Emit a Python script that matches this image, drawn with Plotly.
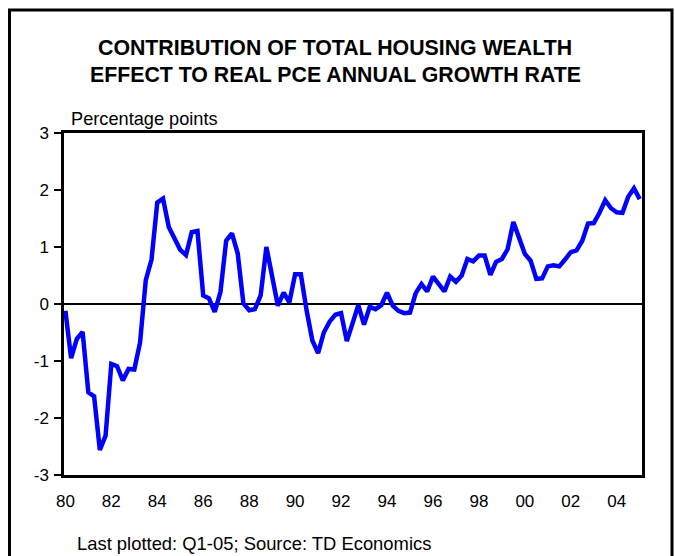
import plotly.graph_objects as go

# ---- data (quarterly, Q1-1980 .. Q1-2005), percentage points ----
start_year = 1980
n_quarters = 101
quarters = [f"Q{(i % 4) + 1}-{str(start_year + i // 4)[2:]}" for i in range(n_quarters)]
x_pos = [start_year + i / 4 for i in range(n_quarters)]

values = [
    -0.12, -0.95, -0.61, -0.49, -1.55, -1.62, -2.56, -2.31, -1.05, -1.09,
    -1.34, -1.14, -1.15, -0.68, 0.42, 0.78, 1.78, 1.85, 1.35, 1.16,
    0.95, 0.86, 1.26, 1.28, 0.15, 0.10, -0.14, 0.21, 1.11, 1.24,
    0.89, 0.01, -0.11, -0.09, 0.15, 1.00, 0.45, -0.03, 0.20, 0.03,
    0.52, 0.52, -0.11, -0.64, -0.86, -0.50, -0.31, -0.19, -0.16, -0.65,
    -0.34, -0.02, -0.36, -0.05, -0.09, -0.02, 0.20, -0.03, -0.12, -0.16,
    -0.15, 0.19, 0.35, 0.22, 0.48, 0.35, 0.22, 0.48, 0.39, 0.50,
    0.79, 0.75, 0.85, 0.85, 0.51, 0.74, 0.79, 0.96, 1.44, 1.16,
    0.88, 0.76, 0.44, 0.45, 0.66, 0.68, 0.66, 0.78, 0.91, 0.94,
    1.11, 1.41, 1.42, 1.60, 1.82, 1.68, 1.61, 1.60, 1.88, 2.03,
    1.84,
]

x_tick_vals = [1980, 1982, 1984, 1986, 1988, 1990, 1992, 1994, 1996, 1998, 2000, 2002, 2004]
x_tick_text = ["80", "82", "84", "86", "88", "90", "92", "94", "96", "98", "00", "02", "04"]
y_tick_vals = [-3, -2, -1, 0, 1, 2, 3]
y_tick_text = ["-3", "-2", "-1", "0", "1", "2", "3"]

title_lines = ["CONTRIBUTION OF TOTAL HOUSING WEALTH", "EFFECT TO REAL PCE ANNUAL GROWTH RATE"]
y_axis_title = "Percentage points"
footer = "Last plotted: Q1-05; Source: TD Economics"

FONT = "Liberation Sans, Arial, sans-serif"

# ---- figure ----
W, H = 675, 556
L, R, T, B = 64, 33, 133, 81
pw, ph = W - L - R, H - T - B


def px_x(p):
    return (p - L) / pw


def px_y(p):
    return (H - B - p) / ph


fig = go.Figure()
fig.add_trace(go.Scatter(
    x=x_pos, y=values, text=quarters, mode="lines",
    line=dict(color="#0000FF", width=4.5),
    hovertemplate="%{text}: %{y:.2f}<extra></extra>",
    showlegend=False,
))

fig.update_layout(
    width=W, height=H, autosize=False,
    margin=dict(l=L, r=R, t=T, b=B, pad=0),
    paper_bgcolor="white", plot_bgcolor="white",
    font=dict(family=FONT, color="black", size=17),
    xaxis=dict(
        range=[1979.94, 2005.1], tickmode="array",
        tickvals=x_tick_vals, ticktext=x_tick_text,
        showgrid=False, zeroline=False, ticks="",
        showline=True, linecolor="black", linewidth=2.5, mirror=True,
        tickfont=dict(size=17, family=FONT, color="black"),
        ticklabelstandoff=9,
    ),
    yaxis=dict(
        range=[-3, 3], tickmode="array", tickvals=y_tick_vals, ticktext=y_tick_text,
        showgrid=False, zeroline=True, zerolinecolor="black", zerolinewidth=2,
        ticks="outside", ticklen=7, tickwidth=2, tickcolor="black",
        showline=True, linecolor="black", linewidth=2.5, mirror=True,
        tickfont=dict(size=17, family=FONT, color="black"),
        ticklabelstandoff=2,
    ),
)

# title lines
fig.add_annotation(text=f"<b>{title_lines[0]}</b>", xref="paper", yref="paper",
                   x=px_x(335), y=px_y(47.5), xanchor="center", yanchor="middle",
                   showarrow=False, font=dict(size=21.3, family=FONT, color="black"))
fig.add_annotation(text=f"<b>{title_lines[1]}</b>", xref="paper", yref="paper",
                   x=px_x(335), y=px_y(74.5), xanchor="center", yanchor="middle",
                   showarrow=False, font=dict(size=21.3, family=FONT, color="black"))
# y-axis unit label
fig.add_annotation(text=y_axis_title, xref="paper", yref="paper",
                   x=px_x(69), y=px_y(119), xanchor="left", yanchor="middle",
                   showarrow=False, font=dict(size=18.2, family=FONT, color="black"))
# footer
fig.add_annotation(text=footer, xref="paper", yref="paper",
                   x=px_x(75), y=px_y(543.5), xanchor="left", yanchor="middle",
                   showarrow=False, font=dict(size=18.4, family=FONT, color="black"))

# outer frame
fig.add_shape(type="rect", xref="paper", yref="paper",
              x0=px_x(9.5), x1=px_x(672), y0=px_y(570), y1=px_y(10),
              line=dict(color="black", width=3), fillcolor="rgba(0,0,0,0)", layer="above")

fig.write_html("out.html", config={"displayModeBar": False},
               post_script="document.body.style.margin='0';document.body.style.overflow='hidden';")
